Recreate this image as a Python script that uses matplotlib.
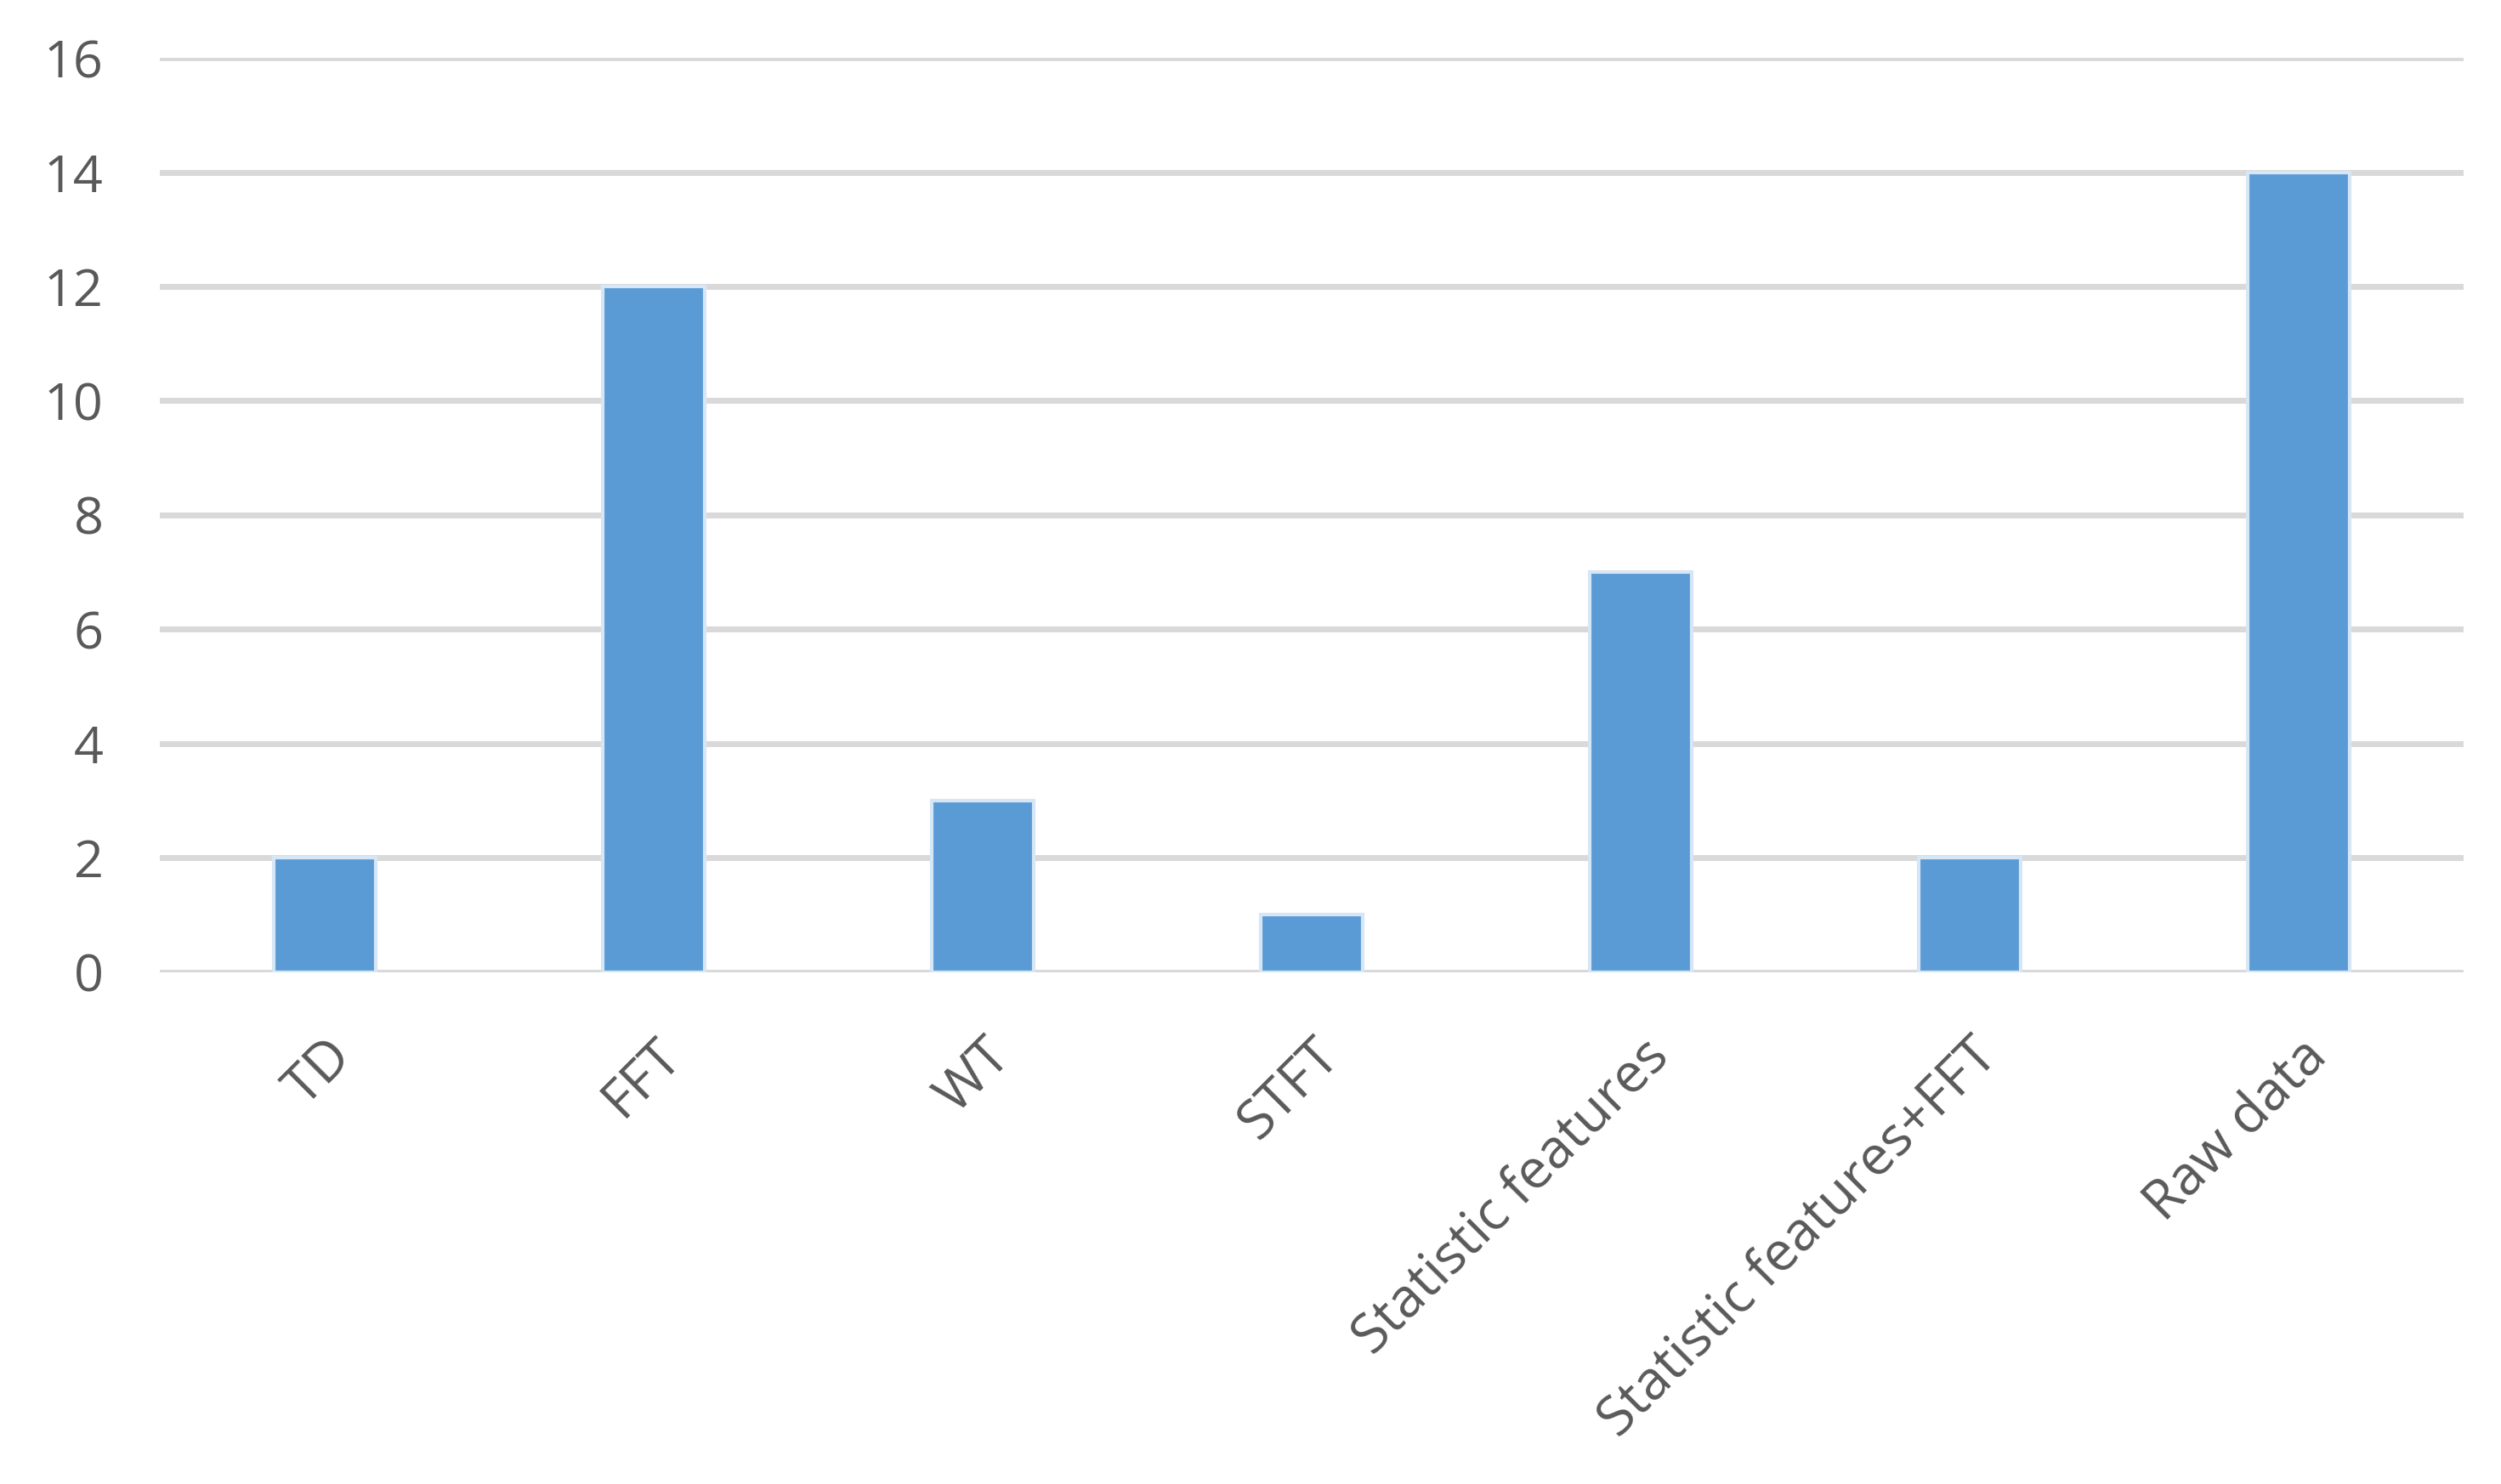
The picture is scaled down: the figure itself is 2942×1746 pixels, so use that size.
import numpy as np
import matplotlib.pyplot as plt

categories = ['TD', 'FFT', 'WT', 'STFT', 'Statistic features',
              'Statistic features+FFT', 'Raw data']
counts = [2, 12, 3, 1, 7, 2, 14]
yticks = [0, 2, 4, 6, 8, 10, 12, 14, 16]

plt.rcParams['font.family'] = ['Open Sans', 'DejaVu Sans']

fig = plt.figure(figsize=(14.71, 8.73), dpi=200)
ax = fig.add_axes([0.064, 0.345, 0.921, 0.616])

x = np.arange(len(categories))
ax.bar(x, counts, width=0.31, color='#5b9bd5', edgecolor='#d6e6f5',
       linewidth=1.5, zorder=3)

ax.set_xlim(-0.5, len(categories) - 0.5)
ax.set_ylim(0, 16)
ax.set_yticks(yticks)
ax.yaxis.grid(True, color='#d9d9d9', linewidth=2.5, zorder=0)
ax.set_axisbelow(True)
for s in ax.spines.values():
    s.set_visible(False)
ax.axhline(0, color='#d9d9d9', linewidth=2.5, zorder=1)

ax.set_xticks(x)
ax.set_xticklabels(categories, rotation=45, ha='right', rotation_mode='anchor')
ax.tick_params(axis='both', length=0, labelsize=22, labelcolor='#595959')
ax.tick_params(axis='x', labelsize=23, pad=24)
ax.tick_params(axis='y', pad=24)

fig.savefig('out.png', dpi=200, facecolor='white')
